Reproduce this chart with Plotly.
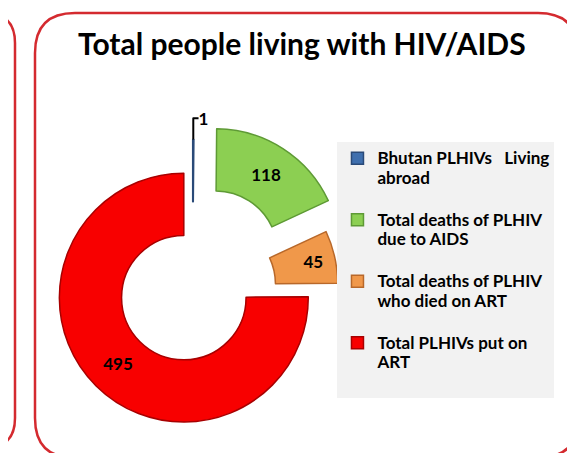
import plotly.graph_objects as go

W, H = 575, 453

# data
labels = [
    "Bhutan PLHIVs&nbsp;&nbsp; Living<br>abroad<br>&nbsp;",
    "Total deaths of PLHIV<br>due to AIDS<br>&nbsp;",
    "Total deaths of PLHIV<br>who died on ART<br>&nbsp;",
    "Total PLHIVs put on<br>ART<br>&nbsp;",
]
values = [1, 118, 45, 495]
colors = ["#3f6fae", "#8ccf52", "#f0984a", "#f80000"]
edge_colors = ["#2a4a78", "#5e9a35", "#b8682a", "#a80000"]
pulls = [0.2, 0.34, 0.17, 0.1]


def px_x(x):
    return x / W


def px_y(y):
    return 1 - y / H


def rounded_rect(x0, y0, x1, y1, r):
    # path in paper coords, input in pixels from top-left
    pts = [
        f"M {px_x(x0 + r)} {px_y(y0)}",
        f"L {px_x(x1 - r)} {px_y(y0)}",
        f"Q {px_x(x1)} {px_y(y0)} {px_x(x1)} {px_y(y0 + r)}",
        f"L {px_x(x1)} {px_y(y1 - r)}",
        f"Q {px_x(x1)} {px_y(y1)} {px_x(x1 - r)} {px_y(y1)}",
        f"L {px_x(x0 + r)} {px_y(y1)}",
        f"Q {px_x(x0)} {px_y(y1)} {px_x(x0)} {px_y(y1 - r)}",
        f"L {px_x(x0)} {px_y(y0 + r)}",
        f"Q {px_x(x0)} {px_y(y0)} {px_x(x0 + r)} {px_y(y0)}",
        "Z",
    ]
    return " ".join(pts)


legend_text = [f"<span style='font-size:17px'>{t}</span>" for t in labels]

fig = go.Figure()
fig.add_trace(go.Pie(
    labels=legend_text,
    values=values,
    hole=0.5,
    sort=False,
    direction="clockwise",
    rotation=0,
    pull=pulls,
    marker=dict(colors=colors, line=dict(color=edge_colors, width=1.5)),
    textinfo="value",
    textposition=["outside", "inside", "inside", "inside"],
    insidetextorientation="horizontal",
    textfont=dict(family="Lato", size=17, color="#000000", weight="bold"),
    outsidetextfont=dict(family="Lato", size=17, color="#000000", weight="bold"),
    domain=dict(x=[0.029, 0.613], y=[0.012, 0.7483]),
    showlegend=True,
))

fig.update_layout(
    width=W,
    height=H,
    margin=dict(l=0, r=0, t=0, b=0, autoexpand=False),
    paper_bgcolor="white",
    plot_bgcolor="white",
    title=dict(
        text="Total people living with HIV/AIDS",
        x=0.511, xanchor="center",
        y=0.92, yanchor="middle",
        font=dict(family="Lato", size=30, color="#000000", weight="bold"),
    ),
    legend=dict(
        x=0.573, xanchor="left",
        y=0.704, yanchor="top",
        bgcolor="#f2f2f2",
        valign="top",
        font=dict(family="Lato", size=15, color="#000000", weight="bold"),
        itemclick=False,
    ),
    shapes=[
        dict(type="path", xref="paper", yref="paper",
             path=rounded_rect(27, 5, 570, 450, 40),
             line=dict(color="#d42a2f", width=2.5)),
        dict(type="path", xref="paper", yref="paper",
             path=rounded_rect(-300, 5, 7, 440, 30),
             line=dict(color="#d42a2f", width=2.5)),
    ],
)

fig.write_html("out.html")
